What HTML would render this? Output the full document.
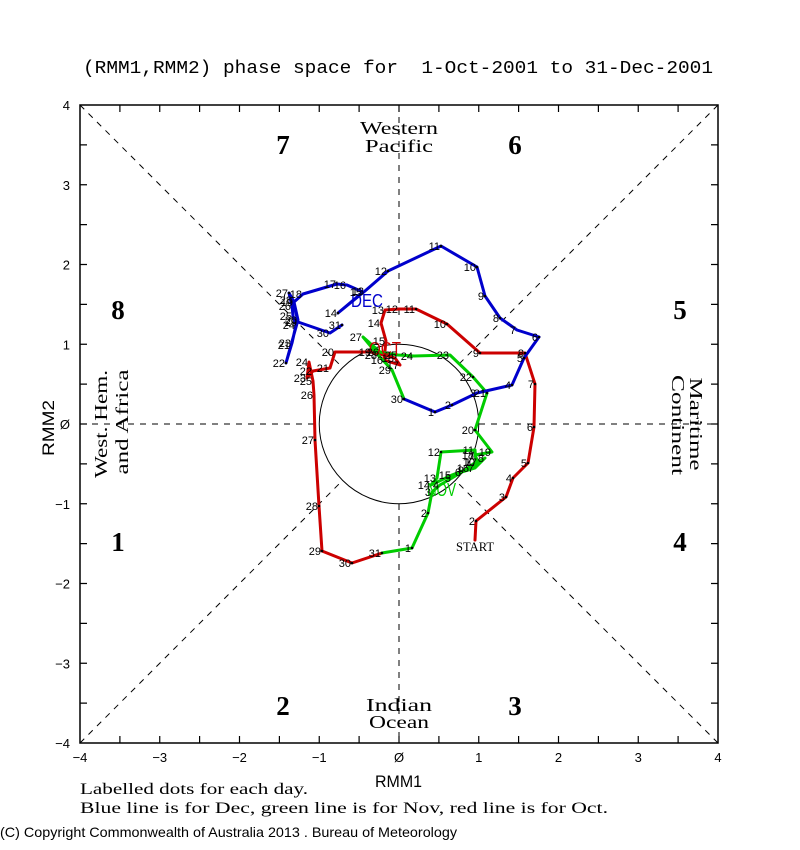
<!DOCTYPE html>
<html><head><meta charset="utf-8"><style>
html,body{margin:0;padding:0;background:#fff;}
svg{display:block;}
.d{font-family:"Liberation Sans",sans-serif;font-size:11px;fill:#000;text-anchor:end;}
.t{font-family:"Liberation Sans",sans-serif;font-size:13px;fill:#000;}
.sr{font-family:"Liberation Serif",serif;fill:#000;}
.ph{font-family:"Liberation Serif",serif;font-weight:bold;font-size:27px;fill:#000;text-anchor:middle;}
</style></head><body>
<svg width="800" height="850" viewBox="0 0 800 850" xmlns="http://www.w3.org/2000/svg">
<rect width="800" height="850" fill="#fff"/>
<!-- title -->
<text x="83" y="73" xml:space="preserve" font-family="Liberation Mono, monospace" font-size="18" textLength="630" lengthAdjust="spacingAndGlyphs" fill="#000">(RMM1,RMM2) phase space for  1-Oct-2001 to 31-Dec-2001</text>

<!-- dashed guide lines -->
<g stroke="#000" stroke-width="1" stroke-dasharray="6,6" fill="none">
<line x1="399" y1="105" x2="399" y2="344"/>
<line x1="399" y1="504" x2="399" y2="743"/>
<line x1="80" y1="424" x2="319" y2="424"/>
<line x1="479" y1="424" x2="718" y2="424"/>
<line x1="80" y1="105" x2="342.6" y2="367.6"/>
<line x1="718" y1="105" x2="455.4" y2="367.6"/>
<line x1="80" y1="743" x2="342.6" y2="480.4"/>
<line x1="718" y1="743" x2="455.4" y2="480.4"/>
</g>
<circle cx="399" cy="424" r="79.75" fill="none" stroke="#000" stroke-width="1"/>

<!-- frame -->
<rect x="80" y="105" width="638" height="638" fill="none" stroke="#000" stroke-width="1.5"/>
<path stroke="#000" stroke-width="1.2" fill="none" d="
M119.9 105v7M159.75 105v7M199.6 105v7M239.5 105v7M279.4 105v7M319.25 105v7M359.1 105v7M399 105v7M438.9 105v7M478.75 105v7M518.6 105v7M558.5 105v7M598.4 105v7M638.25 105v7M678.1 105v7
M119.9 743v-7M159.75 743v-7M199.6 743v-7M239.5 743v-7M279.4 743v-7M319.25 743v-7M359.1 743v-7M399 743v-7M438.9 743v-7M478.75 743v-7M518.6 743v-7M558.5 743v-7M598.4 743v-7M638.25 743v-7M678.1 743v-7
M80 144.9h7M80 184.75h7M80 224.6h7M80 264.5h7M80 304.4h7M80 344.25h7M80 384.1h7M80 424h7M80 463.9h7M80 503.75h7M80 543.6h7M80 583.5h7M80 623.4h7M80 663.25h7M80 703.1h7
M718 144.9h-7M718 184.75h-7M718 224.6h-7M718 264.5h-7M718 304.4h-7M718 344.25h-7M718 384.1h-7M718 424h-7M718 463.9h-7M718 503.75h-7M718 543.6h-7M718 583.5h-7M718 623.4h-7M718 663.25h-7M718 703.1h-7"/>

<!-- tick labels -->
<g class="t" text-anchor="middle">
<text x="80" y="762">−4</text><text x="159.75" y="762">−3</text><text x="239.5" y="762">−2</text><text x="319.25" y="762">−1</text><text x="399" y="762">Ø</text><text x="478.75" y="762">1</text><text x="558.5" y="762">2</text><text x="638.25" y="762">3</text><text x="718" y="762">4</text>
</g>
<g class="t" text-anchor="end">
<text x="70" y="110">4</text><text x="70" y="189.75">3</text><text x="70" y="269.5">2</text><text x="70" y="349.25">1</text><text x="70" y="429">Ø</text><text x="70" y="508.75">−1</text><text x="70" y="588.5">−2</text><text x="70" y="668.25">−3</text><text x="70" y="748">−4</text>
</g>

<!-- axis labels -->
<text x="375" y="787" font-family="Liberation Sans, sans-serif" font-size="17" textLength="47" lengthAdjust="spacingAndGlyphs" fill="#000">RMM1</text>
<text transform="translate(54,428) rotate(-90)" text-anchor="middle" font-family="Liberation Sans, sans-serif" font-size="17" textLength="56" lengthAdjust="spacingAndGlyphs" fill="#000">RMM2</text>

<!-- phase numbers -->
<text class="ph" x="283" y="154">7</text>
<text class="ph" x="515" y="154">6</text>
<text class="ph" x="118" y="319">8</text>
<text class="ph" x="680" y="319">5</text>
<text class="ph" x="118" y="551">1</text>
<text class="ph" x="680" y="551">4</text>
<text class="ph" x="283" y="715">2</text>
<text class="ph" x="515" y="715">3</text>

<!-- region labels -->
<text class="sr" x="399" y="134" font-size="18" text-anchor="middle" textLength="78" lengthAdjust="spacingAndGlyphs">Western</text>
<text class="sr" x="399" y="152" font-size="18" text-anchor="middle" textLength="68" lengthAdjust="spacingAndGlyphs">Pacific</text>
<text class="sr" x="399" y="711" font-size="18" text-anchor="middle" textLength="66" lengthAdjust="spacingAndGlyphs">Indian</text>
<text class="sr" x="399" y="728" font-size="18" text-anchor="middle" textLength="60" lengthAdjust="spacingAndGlyphs">Ocean</text>
<text class="sr" xml:space="preserve" transform="translate(107,424) rotate(-90)" font-size="18" text-anchor="middle" textLength="108" lengthAdjust="spacingAndGlyphs">West. Hem.</text>
<text class="sr" transform="translate(128,422) rotate(-90)" font-size="18" text-anchor="middle" textLength="105" lengthAdjust="spacingAndGlyphs">and Africa</text>
<text class="sr" transform="translate(690,424) rotate(90)" font-size="18" text-anchor="middle" textLength="93" lengthAdjust="spacingAndGlyphs">Maritime</text>
<text class="sr" transform="translate(672,425) rotate(90)" font-size="18" text-anchor="middle" textLength="100" lengthAdjust="spacingAndGlyphs">Continent</text>

<!-- data lines -->
<g fill="none" stroke-width="3" stroke-linejoin="round" stroke-linecap="round">
<polyline stroke="#cc0000" points="475,540 476,521 506,497 513,478 528,463 534,427 535,384 525,353 480,353 447,324 416,309 399,309 385,310 381,323 386,341 384,360 400,365 395,358 372,352 335,352 330,368 313,371 307,378 309,362 313,381 314,395 315,440 319,506 322,551 352,563 382,553"/>
<polyline stroke="#00cc00" points="382,553 412,548 428,513 432,492 440,485 452,478 462,472 475,468 485,458 465,470 476,462 475,450 441,452 437,478 431,485 452,475 470,468 478,462 475,455 492,452 475,430 487,393 473,377 450,355 414,356 398,355 380,352 363,337 378,355 392,370 404,399"/>
<polyline stroke="#0000cc" points="404,399 435,412 452,405 477,393 512,385 524,358 539,337 517,330 500,318 485,296 477,267 441,246 388,271 365,291 338,313 363,292 347,285 337,284 303,294 294,302 298,320 291,345 286,363 292,343 296,325 293,316 292,306 289,293 293,300 298,322 330,333 342,325"/>
</g>

<!-- month labels -->
<text x="351" y="307" font-family="Liberation Sans, sans-serif" font-size="18" textLength="32" lengthAdjust="spacingAndGlyphs" fill="#0000cc">DEC</text>
<text x="369" y="355" font-family="Liberation Sans, sans-serif" font-size="18" textLength="32" lengthAdjust="spacingAndGlyphs" fill="#cc0000">OCT</text>
<text x="427" y="496" font-family="Liberation Sans, sans-serif" font-size="18" textLength="29" lengthAdjust="spacingAndGlyphs" fill="#00cc00">NOV</text>
<text class="sr" x="475" y="551" font-size="13" text-anchor="middle" textLength="38" lengthAdjust="spacingAndGlyphs">START</text>

<!-- day labels: Oct -->
<g class="d">
<text x="475" y="525">2</text><text x="505" y="501">3</text><text x="512" y="482">4</text><text x="527" y="467">5</text><text x="533" y="431">6</text><text x="534" y="388">7</text><text x="524" y="357">8</text><text x="479" y="357">9</text><text x="446" y="328">10</text><text x="415" y="313">11</text><text x="398" y="313">12</text><text x="384" y="314">13</text><text x="380" y="327">14</text><text x="385" y="345">15</text><text x="383" y="364">16</text><text x="399" y="369">17</text><text x="394" y="362">18</text><text x="371" y="356">19</text><text x="334" y="356">20</text><text x="329" y="372">21</text><text x="312" y="375">22</text><text x="306" y="382">23</text><text x="308" y="366">24</text><text x="312" y="385">25</text><text x="313" y="399">26</text><text x="314" y="444">27</text><text x="318" y="510">28</text><text x="321" y="555">29</text><text x="351" y="567">30</text><text x="381" y="557">31</text>
</g>
<!-- Nov -->
<g class="d">
<text x="411" y="552">1</text><text x="427" y="517">2</text><text x="431" y="496">3</text><text x="439" y="489">4</text><text x="451" y="482">5</text><text x="461" y="476">6</text><text x="474" y="472">7</text><text x="484" y="462">8</text><text x="464" y="474">9</text><text x="475" y="466">10</text><text x="474" y="454">11</text><text x="440" y="456">12</text><text x="436" y="482">13</text><text x="430" y="489">14</text><text x="451" y="479">15</text><text x="469" y="472">16</text><text x="477" y="466">17</text><text x="474" y="459">18</text><text x="491" y="456">19</text><text x="474" y="434">20</text><text x="486" y="397">21</text><text x="472" y="381">22</text><text x="449" y="359">23</text><text x="413" y="360">24</text><text x="397" y="359">25</text><text x="379" y="356">26</text><text x="362" y="341">27</text><text x="377" y="359">28</text><text x="391" y="374">29</text><text x="403" y="403">30</text>
</g>
<!-- Dec -->
<g class="d">
<text x="434" y="416">1</text><text x="451" y="409">2</text><text x="476" y="397">3</text><text x="511" y="389">4</text><text x="523" y="362">5</text><text x="538" y="341">6</text><text x="516" y="334">7</text><text x="499" y="322">8</text><text x="484" y="300">9</text><text x="476" y="271">10</text><text x="440" y="250">11</text><text x="387" y="275">12</text><text x="364" y="295">13</text><text x="337" y="317">14</text><text x="362" y="296">15</text><text x="346" y="289">16</text><text x="336" y="288">17</text><text x="302" y="298">18</text><text x="293" y="306">19</text><text x="297" y="324">20</text><text x="290" y="349">21</text><text x="285" y="367">22</text><text x="291" y="347">23</text><text x="295" y="329">24</text><text x="292" y="320">25</text><text x="291" y="310">26</text><text x="288" y="297">27</text><text x="292" y="304">28</text><text x="297" y="326">29</text><text x="329" y="337">30</text><text x="341" y="329">31</text>
</g>

<!-- day dots -->
<g fill="#000">
<circle cx="476" cy="521" r="1.3"/><circle cx="506" cy="497" r="1.3"/><circle cx="513" cy="478" r="1.3"/><circle cx="528" cy="463" r="1.3"/><circle cx="534" cy="427" r="1.3"/><circle cx="535" cy="384" r="1.3"/><circle cx="525" cy="353" r="1.3"/><circle cx="480" cy="353" r="1.3"/><circle cx="447" cy="324" r="1.3"/><circle cx="416" cy="309" r="1.3"/><circle cx="315" cy="440" r="1.3"/><circle cx="319" cy="506" r="1.3"/><circle cx="322" cy="551" r="1.3"/><circle cx="352" cy="563" r="1.3"/><circle cx="382" cy="553" r="1.3"/>
<circle cx="412" cy="548" r="1.3"/><circle cx="428" cy="513" r="1.3"/><circle cx="441" cy="452" r="1.3"/><circle cx="475" cy="430" r="1.3"/><circle cx="487" cy="393" r="1.3"/><circle cx="473" cy="377" r="1.3"/><circle cx="404" cy="399" r="1.3"/>
<circle cx="435" cy="412" r="1.3"/><circle cx="452" cy="405" r="1.3"/><circle cx="512" cy="385" r="1.3"/><circle cx="524" cy="358" r="1.3"/><circle cx="539" cy="337" r="1.3"/><circle cx="500" cy="318" r="1.3"/><circle cx="485" cy="296" r="1.3"/><circle cx="477" cy="267" r="1.3"/><circle cx="441" cy="246" r="1.3"/><circle cx="388" cy="271" r="1.3"/><circle cx="338" cy="313" r="1.3"/><circle cx="286" cy="363" r="1.3"/><circle cx="289" cy="293" r="1.3"/><circle cx="342" cy="325" r="1.3"/>
</g>

<!-- notes -->
<text class="sr" x="80" y="794" font-size="16" textLength="228" lengthAdjust="spacingAndGlyphs">Labelled dots for each day.</text>
<text class="sr" x="80" y="813" font-size="16" textLength="528" lengthAdjust="spacingAndGlyphs">Blue line is for Dec, green line is for Nov, red line is for Oct.</text>
<text x="0" y="837" font-family="Liberation Sans, sans-serif" font-size="14" textLength="457" lengthAdjust="spacingAndGlyphs" fill="#000">(C) Copyright Commonwealth of Australia 2013 . Bureau of Meteorology</text>
</svg>
</body></html>
